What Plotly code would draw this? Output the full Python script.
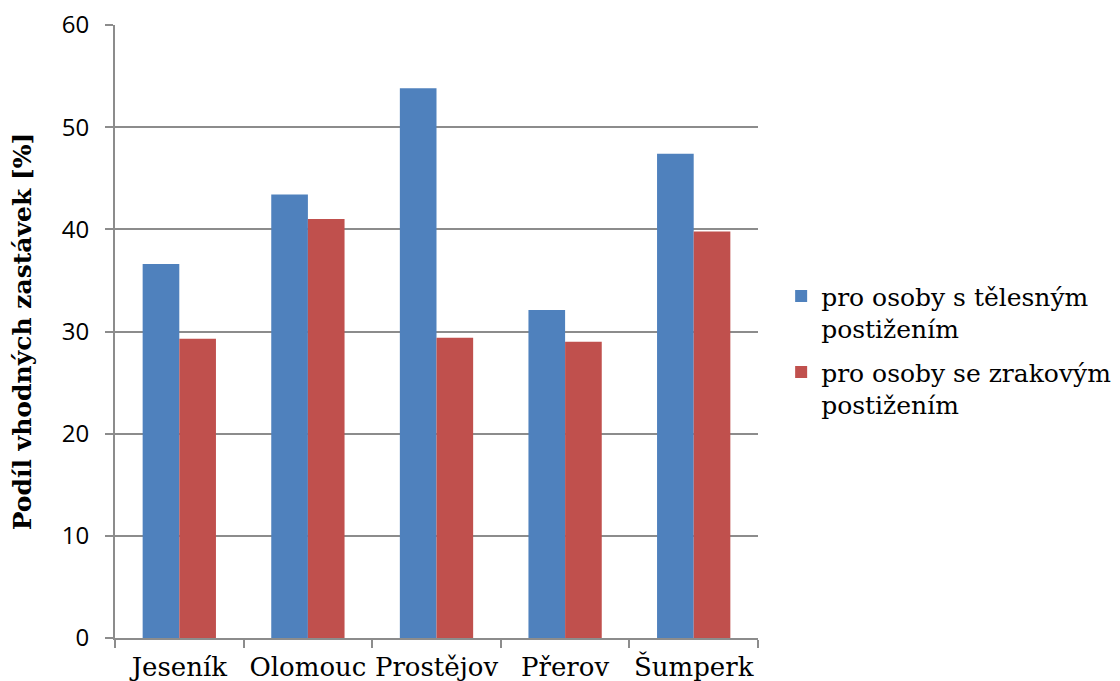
import plotly.graph_objects as go

# Share of suitable stops by district
districts = ["Jeseník", "Olomouc", "Prostějov", "Přerov", "Šumperk"]
telesne = [36.6, 43.4, 53.8, 32.1, 47.4]
zrakove = [29.3, 41.0, 29.4, 29.0, 39.8]
series_names = ["pro osoby s tělesným<br>postižením", "pro osoby se zrakovým<br>postižením"]
y_ticks = [0, 10, 20, 30, 40, 50, 60]

serif = "DejaVu Serif"
sans = "Open Sans"
grid = "#8c8c8c"

fig = go.Figure()
fig.add_trace(go.Bar(x=districts, y=telesne, name=series_names[0], legendgroup="t",
                     marker_color="#4F81BD", marker_line_width=0))
fig.add_trace(go.Bar(x=districts, y=zrakove, name=series_names[1], legendgroup="z",
                     marker_color="#C0504D", marker_line_width=0))

fig.update_layout(
    width=1120, height=681,
    margin=dict(l=115, r=362, t=25, b=43, autoexpand=False),
    paper_bgcolor="white", plot_bgcolor="white",
    barmode="group", bargap=0.43, bargroupgap=0,
    showlegend=True,
    legend=dict(x=1.036, y=0.595, xanchor="left", yanchor="top",
                font=dict(family=serif, size=25, color="#000"),
                valign="top", tracegroupgap=8, itemwidth=30),
    xaxis=dict(type="category", showline=True, linecolor=grid, linewidth=2,
               ticks="outside", tickson="boundaries", ticklen=8, tickcolor=grid, tickwidth=2,
               tickangle=0, automargin=False, ticklabelstandoff=5,
               tickfont=dict(family=serif, size=26, color="#000"), showgrid=False),
    yaxis=dict(range=[0, 60], tickvals=y_ticks, showline=True, linecolor=grid, linewidth=2,
               ticks="outside", ticklen=8, tickcolor=grid, tickwidth=2, automargin=False,
               ticklabelstandoff=11,
               showgrid=True, gridcolor=grid, gridwidth=2, zeroline=False,
               tickfont=dict(family=sans, size=24, color="#000"),
               title=dict(text="<b>Podíl vhodných zastávek [%]</b>", standoff=23,
                          font=dict(family=serif, size=25, color="#000"))),
)

fig.write_html("out.html")
